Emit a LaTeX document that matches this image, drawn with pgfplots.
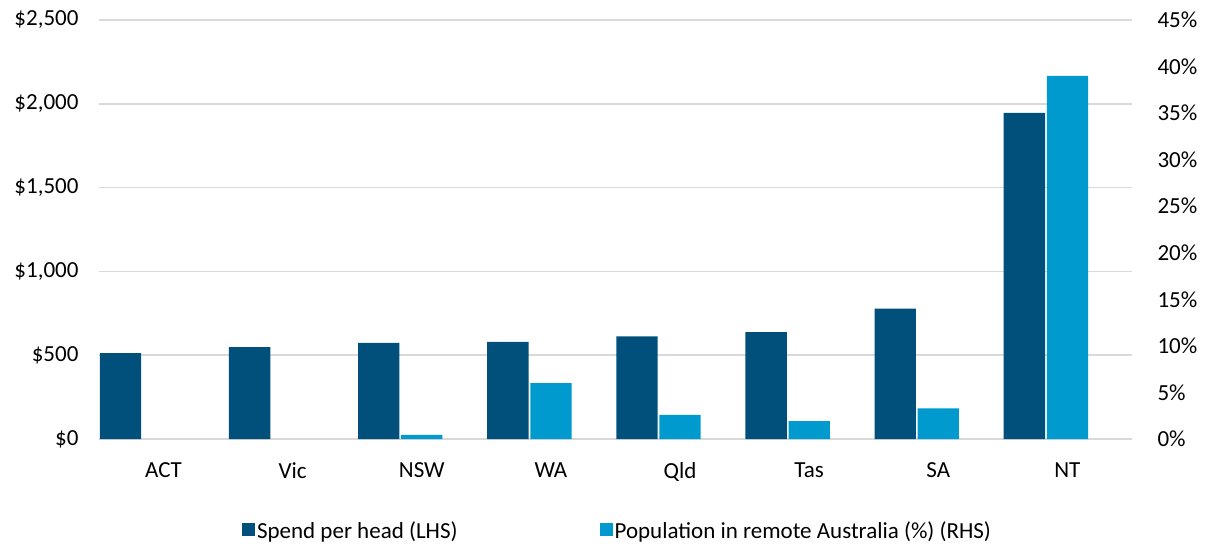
\documentclass[border=0pt]{standalone}
\usepackage{pgfplots}
\pgfplotsset{compat=1.18}
\usepackage{fontspec}
\setmainfont{Carlito}
\definecolor{darkbar}{HTML}{00507B}
\definecolor{lightbar}{HTML}{009ACF}
\definecolor{gridc}{HTML}{D9D9D9}

\begin{document}
\begin{tikzpicture}[font=\fontsize{23}{27}\selectfont]
\pgfplotsset{
 base/.style={
  scale only axis, width=1033pt, height=419pt,
  xmin=-0.5, xmax=7.5, ymin=0,
  axis line style={draw=none},
  major tick length=0pt,
  tick style={draw=none},
  ybar, bar width=0.32,
  ticklabel style={font=\fontsize{23}{27}\selectfont},
 }
}
\begin{axis}[base, name=ax, ymax=2500,
  ytick={0,500,1000,1500,2000,2500},
  yticklabels={{\$0},{\$500},{\$1,000},{\$1,500},{\$2,000},{\$2,500}},
  yticklabel style={xshift=-17pt},
  ymajorgrids, grid style={gridc, line width=1.5pt},
  xtick={0,...,7}, xticklabels={ACT,Vic,NSW,WA,Qld,Tas,SA,NT},
  xticklabel style={yshift=-20pt},
  legend image code/.code={\fill[#1] (-4pt,-5pt) rectangle (9pt,8pt);},
  legend style={at={(0.502,-0.219)}, anchor=center, legend columns=2, draw=none,
    font=\fontsize{23}{27}\selectfont,
    /tikz/every even column/.append style={column sep=140pt}},
]
\addplot[fill=darkbar, draw=none, bar shift=-0.3333] coordinates {(0,512) (1,548) (2,573) (3,579) (4,613) (5,637) (6,778) (7,1946)};
\addlegendentry{Spend per head (LHS)}
\addlegendimage{fill=lightbar, draw=none}
\addlegendentry{Population in remote Australia (\%) (RHS)}
\end{axis}
\begin{axis}[base, ymax=45, axis y line*=right, hide x axis,
  ytick={0,5,...,45},
  yticklabels={0\%,5\%,10\%,15\%,20\%,25\%,30\%,35\%,40\%,45\%},
  yticklabel style={xshift=22pt},
]
\addplot[fill=lightbar, draw=none, bar shift=0] coordinates {(2,0.43) (3,6.0) (4,2.6) (5,1.93) (6,3.3) (7,39.0)};
\end{axis}
\path (ax.south west) ++(-99pt,-111pt) rectangle ++(1211pt,550pt);
\end{tikzpicture}
\end{document}
